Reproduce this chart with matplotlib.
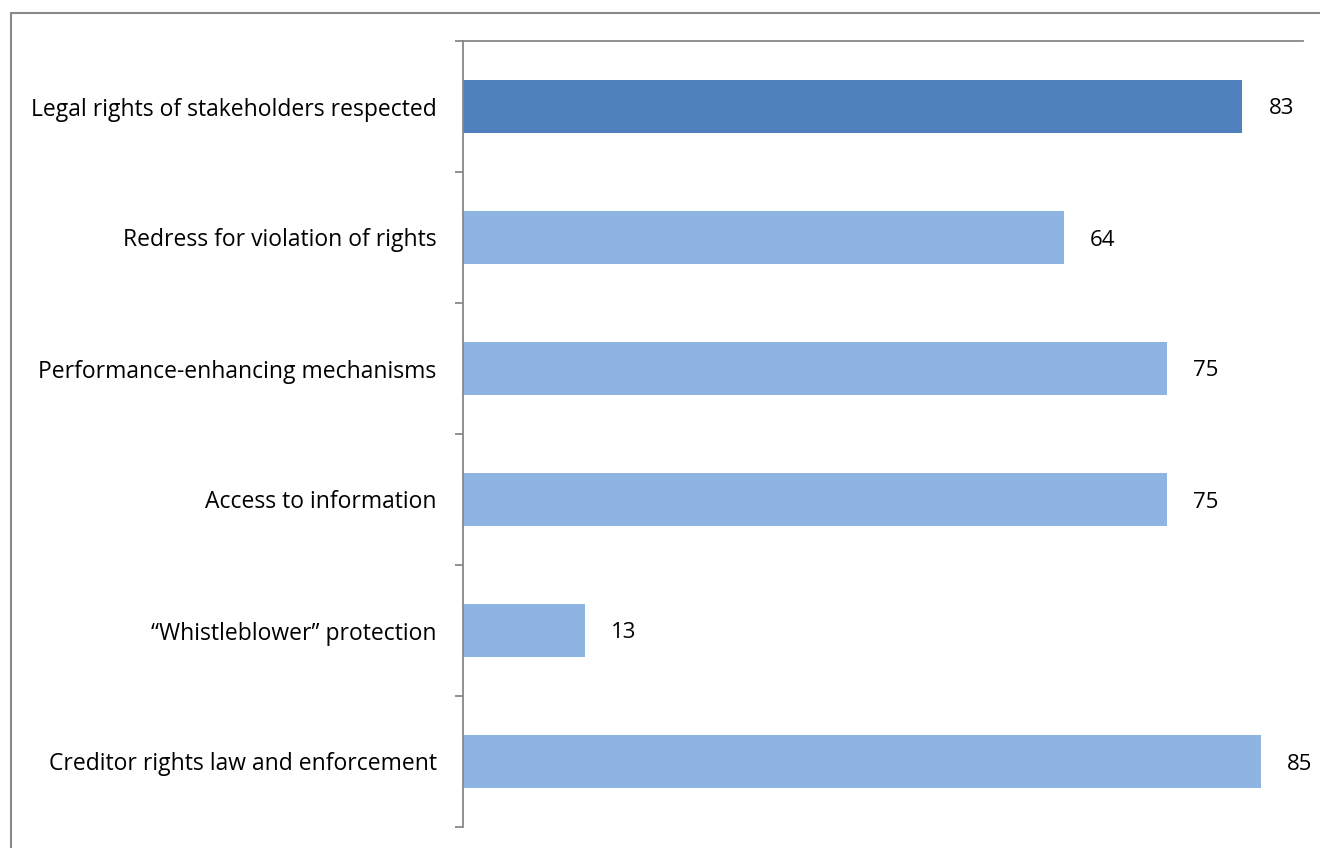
import matplotlib.pyplot as plt
from matplotlib.patches import Rectangle

categories = [
    "Legal rights of stakeholders respected",
    "Redress for violation of rights",
    "Performance-enhancing mechanisms",
    "Access to information",
    "\u201cWhistleblower\u201d protection",
    "Creditor rights law and enforcement",
]
values = [83, 64, 75, 75, 13, 85]
colors = ["#4F81BD", "#8EB4E3", "#8EB4E3", "#8EB4E3", "#8EB4E3", "#8EB4E3"]

plt.rcParams["font.family"] = ["Open Sans", "DejaVu Sans"]

W, H = 1320, 848
fig = plt.figure(figsize=(W / 100, H / 100), dpi=100)
ax = fig.add_axes([463 / W, 1 - 827 / H, (1303 - 463) / W, (827 - 41) / H])

pos = list(range(len(categories)))
ax.barh(pos, values, height=0.4, color=colors)
ax.set_ylim(len(categories) - 0.5, -0.5)
ax.set_xlim(0, 89.5)

for p, v in zip(pos, values):
    ax.annotate(str(v), (v, p), xytext=(19, 0), textcoords="offset points",
                va="center_baseline", ha="left", fontsize=16)

ax.set_yticks(pos)
ax.set_yticklabels(categories, fontsize=16.5)
ax.tick_params(axis="y", which="major", length=0, pad=19)
ax.set_yticks([p - 0.5 for p in pos] + [len(categories) - 0.5], minor=True)
ax.tick_params(axis="y", which="minor", length=6, width=1.3, color="#888888")
ax.set_xticks([])

for s in ["right", "bottom"]:
    ax.spines[s].set_visible(False)
for s in ["left", "top"]:
    ax.spines[s].set_color("#888888")
    ax.spines[s].set_linewidth(1.3)

# outer chart frame
fig.patches.append(Rectangle((11 / W, -0.1), 1.2, 1 - 13 / H + 0.1, transform=fig.transFigure,
                             fill=False, edgecolor="#888888", linewidth=1.5))

fig.savefig("out.png", dpi=100)
